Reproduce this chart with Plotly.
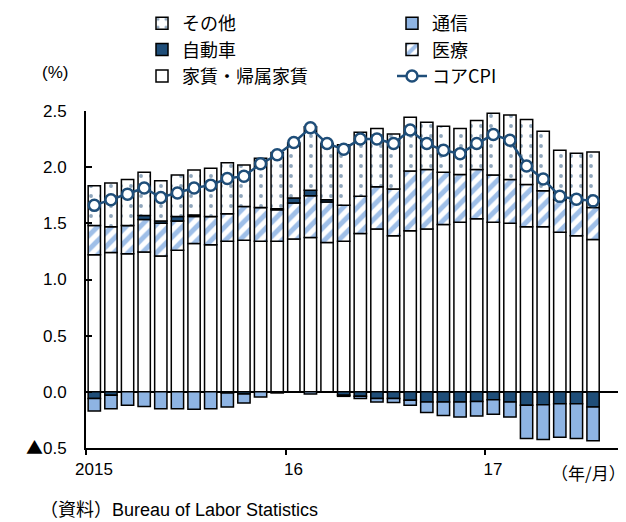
import plotly.graph_objects as go

# Jan 2015 .. Jul 2017 (31 months)
month_labels = [f"{y}/{m}" for y in (2015, 2016, 2017) for m in range(1, 13)][:31]
month_index = list(range(len(month_labels)))

rent = [1.22, 1.24, 1.23, 1.245, 1.21, 1.26, 1.32, 1.31, 1.34, 1.35, 1.34, 1.34,
        1.36, 1.375, 1.33, 1.34, 1.41, 1.45, 1.39, 1.435, 1.45, 1.49, 1.51, 1.54,
        1.51, 1.50, 1.47, 1.47, 1.42, 1.39, 1.355]
medical = [0.26, 0.23, 0.25, 0.29, 0.29, 0.26, 0.24, 0.25, 0.245, 0.30, 0.30, 0.28,
           0.32, 0.37, 0.36, 0.32, 0.33, 0.375, 0.415, 0.53, 0.53, 0.465, 0.425, 0.44,
           0.42, 0.39, 0.375, 0.32, 0.29, 0.305, 0.285]
auto = [-0.06, -0.03, 0.0, 0.035, 0.02, 0.04, 0.015, 0.0, -0.01, -0.02, 0.0, 0.01,
        0.045, 0.05, 0.02, -0.03, -0.04, -0.06, -0.06, -0.075, -0.09, -0.09, -0.09, -0.085,
        -0.07, -0.09, -0.12, -0.115, -0.105, -0.105, -0.135]
other = [0.355, 0.39, 0.41, 0.385, 0.36, 0.37, 0.40, 0.43, 0.455, 0.37, 0.44, 0.50,
         0.49, 0.565, 0.50, 0.54, 0.57, 0.52, 0.49, 0.48, 0.42, 0.41, 0.41, 0.435,
         0.55, 0.575, 0.58, 0.53, 0.44, 0.43, 0.495]
telecom = [-0.11, -0.12, -0.12, -0.13, -0.15, -0.15, -0.155, -0.15, -0.125, -0.08, -0.045, -0.01,
           0.0, -0.02, 0.0, -0.01, -0.02, -0.03, -0.035, -0.045, -0.095, -0.12, -0.135, -0.13,
           -0.13, -0.135, -0.295, -0.31, -0.30, -0.31, -0.30]
core_cpi = [1.66, 1.71, 1.76, 1.815, 1.73, 1.77, 1.815, 1.84, 1.90, 1.92, 2.03, 2.11,
            2.22, 2.35, 2.21, 2.16, 2.25, 2.25, 2.21, 2.33, 2.21, 2.15, 2.12, 2.21,
            2.29, 2.24, 2.01, 1.895, 1.74, 1.715, 1.70]

year_tick_pos = [-0.5, 11.5, 23.5]
year_tick_labels = ["2015", "16", "17"]
y_tick_vals = [-0.5, 0.0, 0.5, 1.0, 1.5, 2.0, 2.5]
y_tick_text = ["<span style='font-family:Noto Sans CJK JP'>▲</span>0.5",
               "0.0", "0.5", "1.0", "1.5", "2.0", "2.5"]

NAVY = "#1F4E79"
LIGHT = "#8EB4E3"
HATCH = "#3F7FD2"
FONT = "Liberation Sans, Noto Sans CJK JP, sans-serif"
JFONT = "Noto Sans CJK JP, Liberation Sans, sans-serif"

outline = dict(color="black", width=1.5)

fig = go.Figure()
fig.add_trace(go.Bar(x=month_index, y=rent, name="家賃・帰属家賃", legendrank=5,
                     marker=dict(color="white", line=outline)))
fig.add_trace(go.Bar(x=month_index, y=medical, name="医療", legendrank=4,
                     marker=dict(color="white", line=outline,
                                 pattern=dict(shape="/", fgcolor=HATCH, bgcolor="white",
                                              size=10, solidity=0.5, fillmode="overlay"))))
fig.add_trace(go.Bar(x=month_index, y=auto, name="自動車", legendrank=3,
                     marker=dict(color=NAVY, line=outline)))
fig.add_trace(go.Bar(x=month_index, y=other, name="その他", legendrank=1,
                     marker=dict(color="white", line=outline,
                                 pattern=dict(shape=".", fgcolor=NAVY, bgcolor="white",
                                              size=10, solidity=0.12, fillmode="overlay"))))
fig.add_trace(go.Bar(x=month_index, y=telecom, name="通信", legendrank=2,
                     marker=dict(color=LIGHT, line=outline)))
fig.add_trace(go.Scatter(x=month_index, y=core_cpi, name="コアCPI", legendrank=6,
                         mode="lines+markers",
                         line=dict(color=NAVY, width=2.5),
                         marker=dict(symbol="circle", size=11, color="white",
                                     line=dict(color=NAVY, width=2.5))))

fig.update_layout(
    width=626, height=522,
    margin=dict(l=86, r=8, t=111, b=74, autoexpand=False),
    paper_bgcolor="white", plot_bgcolor="white",
    barmode="relative", bargap=0.26,
    font=dict(family=FONT, size=17, color="black"),
    showlegend=True,
    legend=dict(orientation="h", xref="container", yref="container",
                x=142 / 626, y=1 - 5 / 522, xanchor="left", yanchor="top",
                entrywidthmode="pixels", entrywidth=205,
                font=dict(family=JFONT, size=18, color="black"),
                tracegroupgap=0, bgcolor="rgba(0,0,0,0)"),
    xaxis=dict(range=[-0.5, 31.5], showgrid=False, zeroline=False,
               showline=True, linecolor="black", linewidth=2,
               tickmode="array", tickvals=year_tick_pos, ticktext=year_tick_labels,
               ticks="outside", ticklen=5, tickwidth=2, tickcolor="black",
               ticklabelshift=8, tickfont=dict(size=17)),
    yaxis=dict(range=[-0.5, 2.5], showgrid=False,
               zeroline=True, zerolinecolor="black", zerolinewidth=1.5,
               showline=True, linecolor="black", linewidth=2,
               tickmode="array", tickvals=y_tick_vals, ticktext=y_tick_text,
               ticks="inside", ticklen=6, tickwidth=2, tickcolor="black",
               ticklabelstandoff=14, tickfont=dict(size=17)),
    annotations=[
        dict(text="(%)", xref="paper", yref="paper", x=-0.058, y=1.113,
             xanchor="center", yanchor="middle", showarrow=False,
             font=dict(size=17)),
        dict(text="（年/月）", xref="paper", yref="paper", x=1.019, y=-0.074,
             xanchor="right", yanchor="middle", showarrow=False,
             font=dict(family=JFONT, size=17)),
        dict(text="（資料）Bureau of Labor Statistics",
             xref="paper", yref="paper",
             x=-0.09, y=-0.184, xanchor="left", yanchor="middle", showarrow=False,
             font=dict(size=18)),
    ],
)

fig.write_html("out.html",
               config={"displayModeBar": False},
               post_script="document.body.style.margin='0';"
                           "document.body.style.overflow='hidden';")
